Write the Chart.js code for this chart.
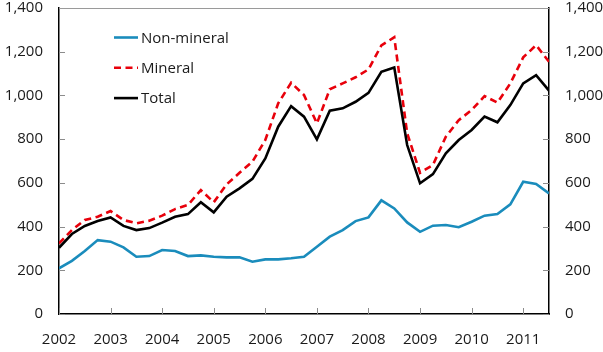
<!DOCTYPE html>
<html>
<head>
<meta charset="utf-8">
<style>
  html, body { margin: 0; padding: 0; background: #fff; }
  #wrap { width: 603px; height: 352px; }
</style>
<script src="https://cdn.jsdelivr.net/npm/chart.js@4/dist/chart.umd.min.js"></script>
</head>
<body>
<div id="wrap"><canvas id="investChart" width="603" height="352"></canvas></div>
<script>
// quarterly periods, 2002 Q1 - 2011 Q3
const quarters = [
  '2002 Q1', '2002 Q2', '2002 Q3', '2002 Q4',
  '2003 Q1', '2003 Q2', '2003 Q3', '2003 Q4',
  '2004 Q1', '2004 Q2', '2004 Q3', '2004 Q4',
  '2005 Q1', '2005 Q2', '2005 Q3', '2005 Q4',
  '2006 Q1', '2006 Q2', '2006 Q3', '2006 Q4',
  '2007 Q1', '2007 Q2', '2007 Q3', '2007 Q4',
  '2008 Q1', '2008 Q2', '2008 Q3', '2008 Q4',
  '2009 Q1', '2009 Q2', '2009 Q3', '2009 Q4',
  '2010 Q1', '2010 Q2', '2010 Q3', '2010 Q4',
  '2011 Q1', '2011 Q2', '2011 Q3'
];

const nonMineral = [
  209, 243, 288, 338, 331, 305, 262, 265, 293, 288, 265, 268,
  262, 259, 259, 239, 250, 250, 255, 262, 308, 354, 384, 425,
  442, 520, 483, 419, 376, 404, 407, 397, 422, 450, 457, 502,
  605, 595, 552
];

const mineral = [
  323, 384, 430, 445, 471, 430, 415, 427, 450, 480, 499, 567,
  511, 593, 646, 697, 796, 964, 1058, 1002, 872, 1028, 1055, 1083,
  1119, 1229, 1266, 827, 646, 682, 811, 887, 933, 997, 967, 1055,
  1174, 1230, 1154
];

const total = [
  303, 366, 403, 425, 442, 403, 384, 393, 418, 445, 457, 511,
  465, 537, 575, 618, 712, 857, 951, 903, 799, 930, 941, 971,
  1012, 1108, 1128, 773, 598, 640, 735, 796, 842, 903, 877, 956,
  1055, 1093, 1022
];

const yearTicks = [2002, 2003, 2004, 2005, 2006, 2007, 2008, 2009, 2010, 2011];
const yMin = 0, yMax = 1400, yStep = 200;

// "2005 Q3" -> 2005.5
function quarterToYear(q) {
  const [yr, qq] = q.split(' Q');
  return Number(yr) + (Number(qq) - 1) / 4;
}

function toPoints(values) {
  return values.map((v, i) => ({ x: quarterToYear(quarters[i]), y: v }));
}

Chart.defaults.font.family = "'Open Sans', 'Noto Sans', sans-serif";
Chart.defaults.font.size = 15;
Chart.defaults.color = '#1a1a1a';

// short tick marks pointing into the plot, plus the light top frame line
const innerTicks = {
  id: 'innerTicks',
  beforeDatasetsDraw(chart) {
    const { ctx, chartArea: a, scales } = chart;
    ctx.save();
    ctx.strokeStyle = '#8c8c8c';
    ctx.lineWidth = 1;
    ctx.beginPath();
    scales.y.ticks.forEach(t => {
      const py = Math.round(scales.y.getPixelForValue(t.value)) + 0.5;
      ctx.moveTo(a.left, py); ctx.lineTo(a.left + 6, py);
    });
    scales.y2.ticks.forEach(t => {
      const py = Math.round(scales.y2.getPixelForValue(t.value)) + 0.5;
      ctx.moveTo(a.right - 6, py); ctx.lineTo(a.right, py);
    });
    scales.x.ticks.forEach(t => {
      const px = Math.round(scales.x.getPixelForValue(t.value)) + 0.5;
      ctx.moveTo(px, a.bottom); ctx.lineTo(px, a.bottom - 6);
    });
    ctx.stroke();
    ctx.strokeStyle = '#9a9a9a';
    ctx.beginPath();
    ctx.moveTo(a.left, Math.round(a.top) + 0.5);
    ctx.lineTo(a.right, Math.round(a.top) + 0.5);
    ctx.stroke();
    ctx.restore();
  }
};

// legend stacked in the upper-left of the plot
const insetLegend = {
  id: 'insetLegend',
  afterDraw(chart) {
    const { ctx, chartArea: a } = chart;
    const x0 = a.left + 55, lineLen = 24, rowGap = 30.3;
    ctx.save();
    ctx.font = "15px 'Open Sans', 'Noto Sans', sans-serif";
    ctx.textBaseline = 'middle';
    chart.data.datasets.forEach((ds, i) => {
      const y = a.top + 29.5 + i * rowGap;
      ctx.strokeStyle = ds.borderColor;
      ctx.lineWidth = ds.borderWidth;
      ctx.setLineDash(ds.borderDash || []);
      ctx.beginPath();
      ctx.moveTo(x0, y); ctx.lineTo(x0 + lineLen, y);
      ctx.stroke();
      ctx.setLineDash([]);
      ctx.fillStyle = '#1a1a1a';
      ctx.fillText(ds.label, x0 + lineLen + 3, y + 1);
    });
    ctx.restore();
  }
};

function yAxis(position, width) {
  return {
    type: 'linear',
    position: position,
    min: yMin,
    max: yMax,
    ticks: {
      stepSize: yStep,
      padding: 16,
      callback: v => v.toLocaleString('en-US')
    },
    grid: { display: true, drawOnChartArea: false, drawTicks: false },
    border: { display: true, color: '#000', width: 1.5 },
    afterFit(scale) {
      scale.width = width;
      // keep the plot top close to the canvas edge
      scale.paddingTop = 8;
      scale.paddingBottom = 0;
    }
  };
}

new Chart(document.getElementById('investChart').getContext('2d'), {
  type: 'line',
  data: {
    datasets: [
      {
        label: 'Non-mineral',
        data: toPoints(nonMineral),
        borderColor: '#1a8cbc',
        borderWidth: 2.6,
        pointRadius: 0,
        tension: 0,
        order: 3
      },
      {
        label: 'Mineral',
        data: toPoints(mineral),
        borderColor: '#e8000b',
        borderWidth: 2.6,
        borderDash: [7, 4.5],
        pointRadius: 0,
        tension: 0,
        order: 2
      },
      {
        label: 'Total',
        data: toPoints(total),
        borderColor: '#000000',
        borderWidth: 2.6,
        pointRadius: 0,
        tension: 0,
        order: 1
      }
    ]
  },
  options: {
    responsive: false,
    animation: false,
    layout: { padding: 0 },
    plugins: {
      legend: { display: false },
      tooltip: { enabled: false }
    },
    scales: {
      x: {
        type: 'linear',
        min: quarterToYear(quarters[0]),
        max: quarterToYear(quarters[quarters.length - 1]),
        afterBuildTicks(scale) {
          scale.ticks = yearTicks.map(v => ({ value: v }));
        },
        ticks: {
          padding: 17,
          maxRotation: 0,
          autoSkip: false,
          callback: v => String(v)
        },
        grid: { display: true, drawOnChartArea: false, drawTicks: false },
        border: { display: true, color: '#000', width: 1.5 },
        afterFit(scale) { scale.height = 38; }
      },
      y: yAxis('left', 59),
      y2: yAxis('right', 54)
    }
  },
  plugins: [innerTicks, insetLegend]
});
</script>
</body>
</html>
